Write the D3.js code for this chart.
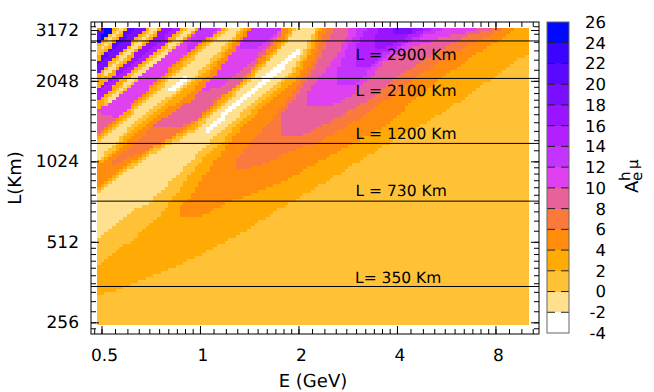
<!DOCTYPE html>
<html>
<head>
<meta charset="utf-8">
<script src="https://cdn.jsdelivr.net/npm/d3@7"></script>
<style>
  body { margin: 0; background: white; }
  text { font-family: "DejaVu Sans", sans-serif; fill: black; text-rendering: geometricPrecision; }
</style>
</head>
<body>
<svg id="chart"></svg>
<script>
const colorLevels = [-4, -2, 0, 2, 4, 6, 8, 10, 12, 14, 16, 18, 20, 22, 24];
const colorValues = ["#ffffff", "#ffe08f", "#ffc237", "#ffaa05", "#ff8c0c", "#f97a3c", "#e9619a", "#df40f0",
    "#c334ff", "#b320ff", "#9a14ff", "#7a0eff", "#5a08ff", "#3a04ff", "#0008ff"];
const colorTicks = [-4, -2, 0, 2, 4, 6, 8, 10, 12, 14, 16, 18, 20, 22, 24, 26];

const xLabels = [0.5, 1, 2, 4, 8];
const yLabels = [256, 512, 1024, 2048, 3172];
const baselines = [2900, 2100, 1200, 730, 350];
const baselineLabels = ["L = 2900 Km", "L = 2100 Km", "L = 1200 Km", "L = 730 Km", "L= 350 Km"];

//regions of the map as [log2 E, log2 L], lowest layer first
const hill2 = [[-1.05,8.32],[-1.00,8.35],[-.72,8.47],[-.51,8.57],[-.21,8.72],[.13,8.93],[.47,9.15],[.81,9.43],[1.01,9.56],[1.92,10.24],[2.37,10.55],[2.72,10.82],[3.06,11.13],[3.36,11.38],[3.36,11.7],[-1.1,11.7],[-1.1,8.32]];
const hill4 = [[-.23,9.44],[-.23,9.34],[-.11,9.31],[.03,9.34],[.13,9.40],[.27,9.50],[.45,9.56],[.62,9.65],[.88,9.77],[1.01,9.87],[1.54,10.23],[1.87,10.44],[2.03,10.61],[2.20,10.81],[2.72,11.28],[3.06,11.53],[3.19,11.65],[3.19,11.7],[-1.1,11.7],[-1.1,9.72]];
const hill6Left = [[-1.02,10.15],[-.89,9.94],[-.72,10.05],[-.44,10.19],[-.24,10.34],[-.06,10.52],[.13,10.72],[.47,11.10],[.82,11.60],[.82,11.7],[-1.1,11.7],[-1.1,10.27]];
const hill6Right = [[.37,9.91],[.57,9.94],[.74,10.02],[.91,10.13],[1.18,10.24],[1.53,10.47],[1.87,10.76],[2.22,11.08],[2.72,11.45],[3.07,11.65],[3.07,11.7],[1.29,11.7],[1.14,11.26],[.94,10.87],[.69,10.48],[.53,10.27],[.37,10.05]];
const hill8Left = [[-.39,10.43],[-.23,10.43],[-.11,10.47],[-.01,10.55],[.13,10.74],[.40,10.99],[.53,11.17],[.82,11.60],[.82,11.7],[-1.1,11.7],[-1.1,10.36]];
const hill8Right = [[.80,10.32],[1.01,10.32],[1.36,10.53],[1.70,10.77],[2.05,11.10],[2.39,11.36],[2.69,11.56],[2.95,11.65],[2.95,11.7],[1.37,11.7],[1.21,11.29],[.94,10.75],[.80,10.58]];
const hill10Left = [[-.01,10.87],[.20,10.93],[.37,11.10],[.57,11.30],[.81,11.64],[.81,11.7],[-1.1,11.7],[-1.1,10.63],[-.85,10.55]];
const hill10Right = [[1.54,11.7],[1.40,11.36],[1.26,11.12],[1.11,10.92],[1.07,10.70],[1.31,10.69],[1.53,10.83],[1.72,11.04],[1.87,11.25],[2.15,11.43],[2.49,11.56],[2.82,11.65],[2.82,11.7]];
const hill12Right = [[1.62,11.7],[1.47,11.36],[1.37,11.08],[1.37,10.95],[1.57,10.95],[1.77,11.20],[2.03,11.43],[2.33,11.60],[2.48,11.65],[2.48,11.7]];
const hill14Right = [[1.72,11.7],[1.59,11.45],[1.57,11.20],[1.72,11.17],[1.87,11.36],[2.13,11.51],[2.33,11.65],[2.33,11.7]];
const hill16Right = [[1.80,11.7],[1.76,11.39],[1.87,11.41],[2.08,11.55],[2.28,11.65],[2.28,11.7]];
const hill18Right = [[1.93,11.7],[1.98,11.58],[2.13,11.60],[2.20,11.7]];
const hill12Mid = [[.48,11.7],[.40,11.41],[.55,11.39],[.79,11.61],[.81,11.7]];
const hill12Upper = [[-.01,11.7],[.22,11.7],[-.06,11.36],[-.16,11.39]];
const hill14Left = [[-1.1,10.65],[-.09,11.65],[-.09,11.7],[-1.1,11.7]];
const ridge16 = [[-1.1,10.92],[-1.1,10.81],[-.29,11.63],[-.36,11.7]];
const hill18Left = [[-1.1,10.99],[-.47,11.65],[-.47,11.7],[-1.1,11.7]];
const ridge20 = [[-1.1,11.23],[-1.1,11.14],[-.62,11.7],[-.69,11.7]];
const hill20Corner = [[-1.1,11.35],[-.82,11.7],[-1.1,11.7]];
const ridge24 = [[-1.04,11.51],[-1.02,11.44],[-.88,11.60],[-.94,11.7]];
const corner4 = [[-1.1,11.7],[-.97,11.7],[-1.1,11.55]];

//dips between the ridges
const dip1Outer = [[-.88,11.65],[-.74,11.65],[-1.05,11.25],[-1.05,11.45]];
const dip1Zero = [[-.86,11.65],[-.76,11.65],[-1.05,11.29],[-1.05,11.41]];
const dip1Low = [[-.83,11.65],[-.79,11.65],[-1.02,11.36],[-1.02,11.41]];
const dip2Outer = [[-.56,11.65],[-.39,11.65],[-1.05,10.89],[-1.05,11.09]];
const dip2Zero = [[-.52,11.65],[-.42,11.65],[-1.02,10.99],[-1.02,11.09]];
const dip2Low = [[-.50,11.65],[-.44,11.65],[-.97,11.06],[-.97,11.13]];
const dip3Outer = [[-.20,11.65],[-.03,11.65],[-1.05,10.63],[-1.05,10.76]];
const dip3Zero = [[-.16,11.65],[-.05,11.65],[-.99,10.65],[-.99,10.77]];
const dip3Low = [[-.13,11.65],[-.06,11.65],[-.95,10.71],[-.95,10.78]];

const dip4Four = [[-1.05,10.35],[-.84,10.55],[-.59,10.83],[-.35,11.12],[-.20,11.29],[.20,11.65],[.51,11.65],[.12,11.04],[-.09,10.77],[-.31,10.59],[-.46,10.47],[-.61,10.30],[-.77,10.15],[-.89,10.02],[-1.05,9.87]];
const dip4Outer = [[-1.05,10.30],[-.80,10.57],[-.56,10.83],[-.32,11.11],[-.17,11.28],[.22,11.65],[.47,11.65],[.07,11.07],[-.15,10.82],[-.45,10.55],[-.69,10.32],[-.84,10.12],[-1.05,9.96]];
const dip4Zero = [[-1.05,10.26],[-.76,10.56],[-.53,10.82],[-.29,11.09],[-.14,11.26],[.24,11.65],[.43,11.65],[.03,11.09],[-.20,10.86],[-.50,10.60],[-.74,10.35],[-.88,10.14],[-1.05,9.99]];
const dip4Low = [[-1.05,10.22],[-.74,10.54],[-.51,10.80],[-.26,11.07],[-.11,11.24],[.27,11.65],[.40,11.65],[-.01,11.12],[-.23,10.89],[-.53,10.63],[-.77,10.37],[-.90,10.18],[-1.05,10.02]];
const dip4White = [[-.33,10.89],[-.14,11.08],[-.13,11.03],[-.30,10.86]];

const dip5Outer = [[-1.05,9.69],[-.84,9.87],[-.70,10.00],[-.53,10.14],[-.36,10.27],[-.24,10.34],[-.06,10.47],[.13,10.69],[.48,11.07],[.86,11.54],[.89,11.65],[1.23,11.65],[1.09,11.29],[.94,10.99],[.62,10.66],[.40,10.40],[.23,10.15],[.10,9.93],[-.01,9.75],[-.11,9.55],[-.23,9.44],[-1.05,9.03]];
const dip5Zero = [[-1.05,9.65],[-.84,9.84],[-.70,9.96],[-.53,10.10],[-.36,10.24],[-.24,10.30],[-.06,10.43],[.13,10.64],[.50,11.04],[.89,11.54],[.93,11.65],[1.19,11.65],[1.06,11.30],[.94,11.09],[.60,10.72],[.40,10.50],[.23,10.27],[.10,10.13],[-.01,9.99],[-.11,9.84],[-.31,9.49],[-.49,9.24],[-.72,9.00],[-.89,8.87],[-1.05,8.69]];
const dip5Low = [[-1.05,9.61],[-.84,9.80],[-.70,9.92],[-.53,10.06],[-.36,10.20],[-.24,10.26],[-.06,10.39],[.13,10.59],[.53,11.04],[.91,11.54],[.96,11.65],[1.16,11.65],[1.01,11.29],[.91,11.12],[.60,10.81],[.40,10.59],[.30,10.47],[.17,10.34],[-.01,10.13],[-.11,10.00],[-.21,9.87],[-.51,9.50],[-.72,9.37],[-.89,9.21],[-1.05,9.05]];
const dip5White = [[.04,10.40],[.40,10.80],[.76,11.17],[1.00,11.40],[1.00,11.34],[.76,11.08],[.40,10.71],[.06,10.35]];

//[bin lower edge, region], painted in this order
const layers = [
    [2, hill2], [4, hill4], [6, hill6Left], [6, hill6Right], [8, hill8Left], [8, hill8Right],
    [10, hill10Left], [10, hill10Right], [12, hill12Right], [14, hill14Right], [16, hill16Right], [18, hill18Right],
    [12, hill12Mid], [12, hill12Upper], [14, hill14Left], [16, ridge16], [18, hill18Left], [20, ridge20],
    [20, hill20Corner], [24, ridge24], [4, corner4],
    [2, dip1Outer], [0, dip1Zero], [-2, dip1Low],
    [2, dip2Outer], [0, dip2Zero], [-2, dip2Low],
    [2, dip3Outer], [0, dip3Zero], [-2, dip3Low],
    [4, dip4Four], [2, dip4Outer], [0, dip4Zero], [-2, dip4Low], [-4, dip4White],
    [2, dip5Outer], [0, dip5Zero], [-2, dip5Low], [-4, dip5White]
];

//sampling grid of the map (log2 units)
const gridE = d3.range(115).map(i => -1.051 + i * 0.0381);
const gridL = d3.range(99).map(i => 7.973 + i * 0.0373);

const width = 654;
const height = 392;
const svg = d3.select("#chart").attr("width", width).attr("height", height);

const x = d3.scaleLog().base(2).domain([0.4628, 10.83]).range([91, 539]);
const y = d3.scaleLog().base(2).domain([232.5, 3414]).range([334, 22]);
const color = d3.scaleOrdinal().domain(colorLevels).range(colorValues);

//log2 coordinates to screen
const layerPolys = layers.map(([level, pts]) => ({
    level: level,
    poly: pts.map(p => [x(2 ** p[0]), y(2 ** p[1])])
}));

function binAt(px, py) {
    for (let i = layerPolys.length - 1; i >= 0; i--) {
        if (d3.polygonContains(layerPolys[i].poly, [px, py])) return layerPolys[i].level;
    }
    return 0;
}

//one rect per run of equal cells in a row
const cells = [];
gridL.forEach(l => {
    const top = y(2 ** (l + 0.0373));
    const bottom = y(2 ** l);
    const midY = (top + bottom) / 2;
    let runStart = 0;
    let runBin = null;
    gridE.forEach((e, i) => {
        const b = binAt(x(2 ** (e + 0.01905)), midY);
        if (b !== runBin) {
            if (runBin !== null) cells.push({ e0: gridE[runStart], e1: e, top, bottom, bin: runBin });
            runStart = i;
            runBin = b;
        }
    });
    cells.push({ e0: gridE[runStart], e1: gridE[gridE.length - 1] + 0.0381, top, bottom, bin: runBin });
});

svg.append("g")
    .attr("shape-rendering", "crispEdges")
    .selectAll("rect")
    .data(cells)
    .enter()
    .append("rect")
    .attr("x", d => x(2 ** d.e0))
    .attr("y", d => d.top)
    .attr("width", d => x(2 ** d.e1) - x(2 ** d.e0))
    .attr("height", d => d.bottom - d.top)
    .attr("fill", d => color(d.bin));

//baselines
svg.append("g")
    .selectAll("line")
    .data(baselines)
    .enter()
    .append("line")
    .attr("x1", 91)
    .attr("x2", 539)
    .attr("y1", d => y(d))
    .attr("y2", d => y(d))
    .attr("stroke", "black")
    .attr("stroke-width", 1);

const labelY = [60, 96, 139, 196, 283];
svg.append("g")
    .selectAll("text")
    .data(baselineLabels)
    .enter()
    .append("text")
    .attr("x", (d, i) => i === 4 ? 355 : 355.5)
    .attr("y", (d, i) => labelY[i])
    .style("font-size", "15.5px")
    .text(d => d);

//minor ticks are linear steps between the powers of two
function minorTicks(starts, scale) {
    const [lo, hi] = scale.domain();
    const out = [];
    starts.forEach(s => {
        for (let k = 0; k < 10; k++) {
            const v = s + s * k / 10;
            if (v > lo && v < hi) out.push(v);
        }
    });
    return out;
}
const xMinor = minorTicks([0.25, 0.5, 1, 2, 4, 8], x);
const yMinor = minorTicks([128, 256, 512, 1024, 2048], y);

function drawAxis(axis, tx, ty) {
    const g = svg.append("g").attr("transform", `translate(${tx},${ty})`);
    axis.offset(0)(g);
    g.select(".domain").remove();
    g.selectAll("line").attr("stroke", "black");
    return g;
}

drawAxis(d3.axisBottom(x).tickValues(xMinor).tickSize(-5).tickFormat(""), 0, 334);
drawAxis(d3.axisTop(x).tickValues(xMinor).tickSize(-5).tickFormat(""), 0, 22);
drawAxis(d3.axisLeft(y).tickValues(yMinor).tickSize(-5).tickFormat(""), 91, 0);
drawAxis(d3.axisRight(y).tickValues(yMinor).tickSize(-5).tickFormat(""), 539, 0);

const xBottom = drawAxis(d3.axisBottom(x).tickValues(xLabels).tickSize(-8).tickPadding(15).tickFormat(d => d), 0, 334);
xBottom.selectAll("text").attr("dx", 2.5).style("font-size", "17px").style("font-family", "DejaVu Sans");
drawAxis(d3.axisTop(x).tickValues(xLabels).tickSize(-8).tickFormat(""), 0, 22);
const yLeft = drawAxis(d3.axisLeft(y).tickValues(yLabels).tickSize(-8).tickPadding(12).tickFormat(d => d), 91, 0);
yLeft.selectAll("text").style("font-size", "17px").style("font-family", "DejaVu Sans");
drawAxis(d3.axisRight(y).tickValues(yLabels).tickSize(-8).tickFormat(""), 539, 0);

svg.append("rect")
    .attr("x", 91).attr("y", 22)
    .attr("width", 448).attr("height", 312)
    .attr("fill", "none")
    .attr("stroke", "black")
    .attr("stroke-width", 1);

svg.append("text")
    .attr("x", 313).attr("y", 387)
    .attr("text-anchor", "middle")
    .style("font-size", "18px")
    .text("E (GeV)");

svg.append("text")
    .attr("transform", "translate(21,178) rotate(-90)")
    .attr("text-anchor", "middle")
    .style("font-size", "18px")
    .text("L(Km)");

//colour bar
const barLeft = 547;
const barRight = 569;
const cb = d3.scaleLinear().domain([-4, 26]).range([333, 22]);

svg.append("g")
    .attr("shape-rendering", "crispEdges")
    .selectAll("rect")
    .data(colorLevels)
    .enter()
    .append("rect")
    .attr("x", barLeft)
    .attr("width", barRight - barLeft)
    .attr("y", d => cb(d + 2))
    .attr("height", d => cb(d) - cb(d + 2))
    .attr("fill", d => color(d));

const barTicks = svg.append("g");
colorTicks.slice(1, -1).forEach(t => {
    barTicks.append("line").attr("x1", barLeft).attr("x2", barLeft + 8).attr("y1", cb(t)).attr("y2", cb(t)).attr("stroke", "#222");
    barTicks.append("line").attr("x1", barRight - 8).attr("x2", barRight).attr("y1", cb(t)).attr("y2", cb(t)).attr("stroke", "#222");
});

svg.append("rect")
    .attr("x", barLeft).attr("y", 22)
    .attr("width", barRight - barLeft).attr("height", 311)
    .attr("fill", "none")
    .attr("stroke", "#666");

svg.append("g")
    .selectAll("text")
    .data(colorTicks)
    .enter()
    .append("text")
    .attr("x", 606)
    .attr("y", d => cb(d))
    .attr("dy", "0.36em")
    .attr("text-anchor", "end")
    .style("font-size", "16.5px")
    .text(d => d);

//rotated A^h_e mu
const barTitle = svg.append("g").attr("transform", "translate(638,193) rotate(-90)");
barTitle.append("text").attr("x", 0).attr("y", 0).style("font-size", "18px").text("A");
barTitle.append("text").attr("x", 12).attr("y", -8).style("font-size", "15px").text("h");
barTitle.append("text").attr("x", 12).attr("y", 4).style("font-size", "15px").text("e");
barTitle.append("text").attr("x", 24).attr("y", 0).style("font-size", "15px").text("μ");
</script>
</body>
</html>
